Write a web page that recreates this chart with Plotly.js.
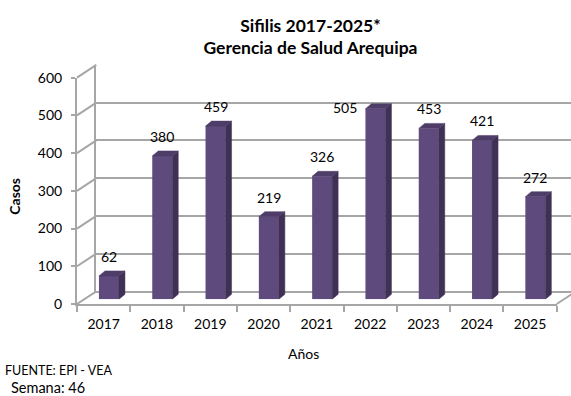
<!DOCTYPE html>
<html>
<head>
<meta charset="utf-8">
<script src="https://cdn.plot.ly/plotly-3.0.1.min.js"></script>
<style>html,body{margin:0;padding:0;background:#fff;}#chart{width:571px;height:396px;}</style>
</head>
<body>
<div id="chart"></div>
<script>
// ---- data ----
const years = ['2017','2018','2019','2020','2021','2022','2023','2024','2025'];
const casos = [62, 380, 459, 219, 326, 505, 453, 421, 272];
const yTickVals = [0, 100, 200, 300, 400, 500, 600];
const titleText = 'Sifilis 2017-2025*<br>Gerencia de Salud Arequipa';
const yTitle = 'Casos';
const xTitle = 'Años';
const sourceText = 'FUENTE: EPI - VEA';
const weekText = 'Semana: 46';

// ---- geometry (pixels) ----
const W = 571, H = 396;
const fx = p => p / W;
const fy = p => 1 - p / H;
const FONT = 'Lato, "Open Sans", sans-serif';
const GRID = '#a6a6a6';
const catPx = 53.3;
const front = {l: 77, r: 77 + 9 * catPx, b: 304, t: 304 - 600 * 0.3773};
const back = {dx: 19.3, dy: -12.7};
const mid = {dx: 5.3, dy: -4.7};
const barW = 20 / catPx;
const ddx = 6 / catPx;           // bar depth in x (category units)
const ddy = 5 / 0.3773;          // bar depth in y (value units)

const idx = years.map((_, i) => i);

// side and top faces of the 3D bars
const sideX = [], sideY = [], topX = [], topY = [];
idx.forEach(i => {
  const v = casos[i];
  const xl = i - barW / 2, xr = i + barW / 2;
  sideX.push(xr, xr + ddx, xr + ddx, xr, xr, null);
  sideY.push(0, ddy, v + ddy, v, 0, null);
  topX.push(xl, xr, xr + ddx, xl + ddx, xl, null);
  topY.push(v, v, v + ddy, v + ddy, v, null);
});

const traces = [
  {x: [0], y: [0], xaxis: 'x', yaxis: 'y', mode: 'markers', marker: {opacity: 0}, hoverinfo: 'skip', showlegend: false},
  {x: years, y: casos.map(() => 0), xaxis: 'x2', yaxis: 'y2', mode: 'markers', marker: {opacity: 0}, hoverinfo: 'skip', showlegend: false},
  {type: 'bar', x: idx, y: casos, width: barW, xaxis: 'x3', yaxis: 'y3',
   marker: {color: '#5e4a7c', line: {width: 0}}, hoverinfo: 'y', showlegend: false},
  {x: sideX, y: sideY, xaxis: 'x3', yaxis: 'y3', mode: 'lines', fill: 'toself',
   fillcolor: '#3f3055', line: {width: 0.5, color: '#3f3055'}, hoverinfo: 'skip', showlegend: false},
  {x: topX, y: topY, xaxis: 'x3', yaxis: 'y3', mode: 'lines', fill: 'toself',
   fillcolor: '#4e3d69', line: {width: 0.5, color: '#4e3d69'}, hoverinfo: 'skip', showlegend: false}
];

// connectors of the left wall and floor
const shapes = [];
const frontY = v => front.b - (v / 600) * (front.b - front.t);
yTickVals.forEach(v => {
  shapes.push({type: 'line', xref: 'paper', yref: 'paper',
    x0: fx(front.l), y0: fy(frontY(v)), x1: fx(front.l + back.dx), y1: fy(frontY(v) + back.dy),
    line: {color: GRID, width: 2}});
});
shapes.push({type: 'line', xref: 'paper', yref: 'paper',
  x0: fx(front.r), y0: fy(front.b), x1: fx(front.r + back.dx), y1: fy(front.b + back.dy),
  line: {color: GRID, width: 2}});

// data labels
const annotations = idx.map(i => {
  const v = casos[i];
  if (v >= 500) {
    return {xref: 'x3', yref: 'y3', x: i - barW / 2, y: v, xanchor: 'right', yanchor: 'middle',
      xshift: -6, yshift: 1, text: String(v), showarrow: false, font: {family: FONT, size: 14, color: '#000'}};
  }
  return {xref: 'x3', yref: 'y3', x: i, y: v + ddy, xanchor: 'center', yanchor: 'middle',
    yshift: 14.5, text: String(v), showarrow: false, font: {family: FONT, size: 14, color: '#000'}};
});
annotations.push(
  {xref: 'paper', yref: 'paper', x: fx(15), y: fy(196.7), text: '<b>' + yTitle + '</b>', textangle: -90,
   showarrow: false, xanchor: 'center', yanchor: 'middle', font: {family: FONT, size: 14, color: '#000'}},
  {xref: 'paper', yref: 'paper', x: fx(303), y: fy(353), text: xTitle,
   showarrow: false, xanchor: 'center', yanchor: 'middle', font: {family: FONT, size: 14, color: '#000'}},
  {xref: 'paper', yref: 'paper', x: fx(3), y: fy(370), text: sourceText,
   showarrow: false, xanchor: 'left', yanchor: 'middle', font: {family: FONT, size: 12.5, color: '#000'}},
  {xref: 'paper', yref: 'paper', x: fx(9), y: fy(387), text: weekText,
   showarrow: false, xanchor: 'left', yanchor: 'middle', font: {family: FONT, size: 14.5, color: '#000'}}
);

const backR = W;
const layout = {
  width: W, height: H,
  margin: {l: 0, r: 0, t: 0, b: 0, pad: 0},
  paper_bgcolor: '#fff', plot_bgcolor: 'rgba(0,0,0,0)',
  showlegend: false,
  title: {text: '<b>' + titleText + '</b>', x: fx(310.5), y: fy(31.5), xref: 'paper', yref: 'container',
    xanchor: 'center', yanchor: 'middle', font: {family: FONT, size: 17.5, color: '#000'}},
  xaxis: {domain: [fx(front.l + back.dx), fx(backR)], range: [-0.5, -0.5 + (backR - front.l - back.dx) / catPx],
    anchor: 'y', showgrid: false, zeroline: false, showline: true, linecolor: GRID, linewidth: 2,
    showticklabels: false, ticks: '', fixedrange: true},
  yaxis: {domain: [fy(front.b + back.dy), fy(front.t + back.dy)], range: [0, 600], tickvals: yTickVals,
    anchor: 'x', showgrid: true, gridcolor: GRID, gridwidth: 2, zeroline: false, showline: true,
    linecolor: GRID, linewidth: 2, showticklabels: false, ticks: '', fixedrange: true},
  xaxis2: {domain: [fx(front.l), fx(front.r)], type: 'category', categoryorder: 'array', categoryarray: years,
    range: [-0.5, years.length - 0.5], anchor: 'y2', tickson: 'boundaries', ticks: 'outside', ticklen: 6,
    tickwidth: 2, tickcolor: GRID, showline: true, linecolor: GRID, linewidth: 2, showgrid: false,
    ticklabelstandoff: 6,
    zeroline: false, tickfont: {family: FONT, size: 14, color: '#000'}, fixedrange: true},
  yaxis2: {domain: [fy(front.b), fy(front.t)], range: [0, 600], tickvals: yTickVals, anchor: 'x2',
    ticks: 'outside', ticklen: 4, tickwidth: 2, tickcolor: GRID, showline: true, linecolor: GRID, linewidth: 2,
    ticklabelstandoff: 6,
    showgrid: false, zeroline: false, tickfont: {family: FONT, size: 14, color: '#000'}, fixedrange: true},
  xaxis3: {domain: [fx(front.l + mid.dx), fx(front.r + mid.dx)], range: [-0.5, years.length - 0.5],
    anchor: 'y3', visible: false, fixedrange: true},
  yaxis3: {domain: [fy(front.b + mid.dy), fy(front.t + mid.dy)], range: [0, 600], anchor: 'x3',
    visible: false, fixedrange: true},
  shapes: shapes,
  annotations: annotations
};

Plotly.newPlot('chart', traces, layout, {displayModeBar: false, staticPlot: true});
</script>
</body>
</html>
